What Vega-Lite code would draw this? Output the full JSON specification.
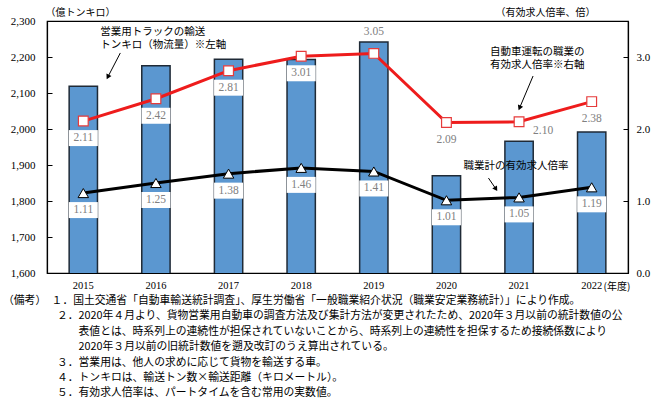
{
  "$schema": "https://vega.github.io/schema/vega-lite/v6.json",
  "width": 581,
  "height": 252,
  "autosize": {"type": "none"},
  "padding": {"left": 47, "top": 21, "right": 33, "bottom": 127},
  "background": "white",
  "config": {
    "view": {"stroke": "black", "strokeWidth": 1.2},
    "axis": {
      "domainColor": "black",
      "domainWidth": 1.2,
      "tickColor": "black",
      "labelColor": "black",
      "labelFont": "Liberation Serif",
      "labelFontSize": 11,
      "titleFont": "Noto Sans CJK JP",
      "titleFontSize": 10,
      "titleFontWeight": "normal",
      "titleColor": "black",
      "grid": false
    }
  },
  "title": {
    "text": [
      "（備考）　１．国土交通省「自動車輸送統計調査」、厚生労働省「一般職業紹介状況（職業安定業務統計）」により作成。",
      "\u200b　　　　　２．2020年４月より、貨物営業用自動車の調査方法及び集計方法が変更されたため、2020年３月以前の統計数値の公",
      "\u200b　　　　　　　表値とは、時系列上の連続性が担保されていないことから、時系列上の連続性を担保するため接続係数により",
      "\u200b　　　　　　　2020年３月以前の旧統計数値を遡及改訂のうえ算出されている。",
      "\u200b　　　　　３．営業用は、他人の求めに応じて貨物を輸送する車。",
      "\u200b　　　　　４．トンキロは、輸送トン数×輸送距離（キロメートル）。",
      "\u200b　　　　　５．有効求人倍率は、パートタイムを含む常用の実数値。"
    ],
    "orient": "bottom",
    "anchor": "start",
    "frame": "group",
    "dx": -44,
    "offset": 4,
    "font": "Noto Sans CJK JP",
    "fontSize": 10.8,
    "fontWeight": "normal",
    "lineHeight": 15.4,
    "color": "black"
  },
  "data": {
    "values": [
      {"year": "2015", "tonkm": 2119, "driver": 2.11, "all": 1.11},
      {"year": "2016", "tonkm": 2176, "driver": 2.42, "all": 1.25},
      {"year": "2017", "tonkm": 2194, "driver": 2.81, "all": 1.38},
      {"year": "2018", "tonkm": 2193, "driver": 3.01, "all": 1.46},
      {"year": "2019", "tonkm": 2242, "driver": 3.05, "all": 1.41},
      {"year": "2020", "tonkm": 1870, "driver": 2.09, "all": 1.01},
      {"year": "2021", "tonkm": 1966, "driver": 2.10, "all": 1.05},
      {"year": "2022", "tonkm": 1992, "driver": 2.38, "all": 1.19}
    ]
  },
  "layer": [
    {
      "mark": {"type": "bar", "color": "#5b97d0", "stroke": "#1f2a36", "strokeWidth": 1.5, "clip": true},
      "encoding": {
        "x": {
          "field": "year",
          "type": "ordinal",
          "scale": {"paddingInner": 0.61, "paddingOuter": 0.305},
          "axis": {
            "labelAngle": 0,
            "ticks": false,
            "labelPadding": 7,
            "labelFont": "Liberation Serif",
            "labelFontSize": 10.5,
            "title": "(年度)",
            "titleX": 556,
            "titleY": 13,
            "titleAlign": "left",
            "titleBaseline": "middle"
          }
        },
        "y": {
          "field": "tonkm",
          "type": "quantitative",
          "scale": {"domain": [1600, 2300], "zero": false, "nice": false},
          "axis": {
            "orient": "left",
            "values": [1600, 1700, 1800, 1900, 2000, 2100, 2200, 2300],
            "format": ",d",
            "labelFont": "Liberation Serif",
            "labelFontSize": 11,
            "tickSize": -5,
            "labelPadding": 17,
            "title": "（億トンキロ）",
            "titleAngle": 0,
            "titleX": -2,
            "titleY": -9,
            "titleAlign": "left",
            "titleBaseline": "middle"
          }
        }
      }
    },
    {
      "layer": [
        {
          "transform": [{"filter": {"field": "year", "oneOf": ["2015", "2016", "2017", "2018"]}}],
          "mark": {"type": "tick", "color": "white", "opacity": 1, "filled": true, "thickness": 16, "size": 29, "yOffset": 17},
          "encoding": {
            "x": {"field": "year", "type": "ordinal"},
            "y": {
              "field": "driver",
              "type": "quantitative",
              "scale": {"domain": [0, 3.5], "nice": false},
              "axis": {
                "orient": "right",
                "values": [0, 0.5, 1, 1.5, 2, 2.5, 3, 3.5],
                "format": ".1f",
                "labelFont": "Liberation Serif",
                "labelFontSize": 11,
                "tickSize": -5,
                "labelPadding": 13,
                "title": "（有効求人倍率、倍）",
                "titleAngle": 0,
                "titleX": -33,
                "titleY": -9,
                "titleAlign": "right",
                "titleBaseline": "middle"
              }
            }
          }
        },
        {
          "mark": {"type": "tick", "color": "white", "opacity": 1, "filled": true, "thickness": 16, "size": 29, "yOffset": 17},
          "encoding": {
            "x": {"field": "year", "type": "ordinal"},
            "y": {"field": "all", "type": "quantitative"}
          }
        },
        {
          "mark": {"type": "line", "color": "black", "strokeWidth": 3},
          "encoding": {
            "x": {"field": "year", "type": "ordinal"},
            "y": {"field": "all", "type": "quantitative"}
          }
        },
        {
          "mark": {"type": "point", "shape": "triangle-up", "filled": true, "fill": "white", "stroke": "black", "strokeWidth": 1, "size": 110, "opacity": 1},
          "encoding": {
            "x": {"field": "year", "type": "ordinal"},
            "y": {"field": "all", "type": "quantitative"}
          }
        },
        {
          "mark": {"type": "line", "color": "#ee1c1c", "strokeWidth": 3},
          "encoding": {
            "x": {"field": "year", "type": "ordinal"},
            "y": {"field": "driver", "type": "quantitative"}
          }
        },
        {
          "mark": {"type": "point", "shape": "square", "filled": true, "fill": "white", "stroke": "#e63b3b", "strokeWidth": 1.2, "size": 95, "opacity": 1},
          "encoding": {
            "x": {"field": "year", "type": "ordinal"},
            "y": {"field": "driver", "type": "quantitative"}
          }
        },
        {
          "transform": [{"filter": {"field": "year", "oneOf": ["2015", "2016", "2017", "2018", "2020", "2022"]}}],
          "mark": {"type": "text", "font": "Liberation Serif", "fontSize": 11.5, "color": "#808080", "dy": 17, "baseline": "middle"},
          "encoding": {
            "x": {"field": "year", "type": "ordinal"},
            "y": {"field": "driver", "type": "quantitative"},
            "text": {"field": "driver", "type": "quantitative", "format": ".2f"}
          }
        },
        {
          "transform": [{"filter": {"field": "year", "equal": "2019"}}],
          "mark": {"type": "text", "font": "Liberation Serif", "fontSize": 11.5, "color": "#808080", "dy": -21, "baseline": "middle"},
          "encoding": {
            "x": {"field": "year", "type": "ordinal"},
            "y": {"field": "driver", "type": "quantitative"},
            "text": {"field": "driver", "type": "quantitative", "format": ".2f"}
          }
        },
        {
          "transform": [{"filter": {"field": "year", "equal": "2021"}}],
          "mark": {"type": "text", "font": "Liberation Serif", "fontSize": 11.5, "color": "#808080", "dx": 24, "dy": 9, "baseline": "middle"},
          "encoding": {
            "x": {"field": "year", "type": "ordinal"},
            "y": {"field": "driver", "type": "quantitative"},
            "text": {"field": "driver", "type": "quantitative", "format": ".2f"}
          }
        },
        {
          "mark": {"type": "text", "font": "Liberation Serif", "fontSize": 11.5, "color": "#808080", "dy": 17, "baseline": "middle"},
          "encoding": {
            "x": {"field": "year", "type": "ordinal"},
            "y": {"field": "all", "type": "quantitative"},
            "text": {"field": "all", "type": "quantitative", "format": ".2f"}
          }
        },
        {
          "transform": [{"filter": {"field": "year", "equal": "2015"}}],
          "mark": {"type": "text", "font": "Noto Sans CJK JP", "fontSize": 10.5, "align": "left", "baseline": "top", "lineHeight": 13, "dx": 17, "color": "black"},
          "encoding": {
            "x": {"field": "year", "type": "ordinal"},
            "y": {"datum": 3.417, "type": "quantitative"},
            "text": {"value": ["営業用トラックの輸送", "トンキロ（物流量）※左軸"]}
          }
        },
        {
          "transform": [{"filter": {"field": "year", "equal": "2015"}}],
          "mark": {"type": "rule", "color": "black", "strokeWidth": 1, "xOffset": 37, "x2Offset": 24.5},
          "encoding": {
            "x": {"field": "year", "type": "ordinal"},
            "x2": {"field": "year"},
            "y": {"datum": 3.056, "type": "quantitative"},
            "y2": {"datum": 2.722}
          }
        },
        {
          "transform": [{"filter": {"field": "year", "equal": "2015"}}],
          "mark": {"type": "point", "shape": "triangle-up", "filled": true, "color": "black", "opacity": 1, "size": 32, "angle": 207, "xOffset": 24.5},
          "encoding": {
            "x": {"field": "year", "type": "ordinal"},
            "y": {"datum": 2.722, "type": "quantitative"}
          }
        },
        {
          "transform": [{"filter": {"field": "year", "equal": "2021"}}],
          "mark": {"type": "text", "font": "Noto Sans CJK JP", "fontSize": 10.5, "align": "left", "baseline": "top", "lineHeight": 13, "dx": -29, "color": "black"},
          "encoding": {
            "x": {"field": "year", "type": "ordinal"},
            "y": {"datum": 3.139, "type": "quantitative"},
            "text": {"value": ["自動車運転の職業の", "有効求人倍率※右軸"]}
          }
        },
        {
          "transform": [{"filter": {"field": "year", "equal": "2021"}}],
          "mark": {"type": "rule", "color": "black", "strokeWidth": 1, "xOffset": 14, "x2Offset": 0.5},
          "encoding": {
            "x": {"field": "year", "type": "ordinal"},
            "x2": {"field": "year"},
            "y": {"datum": 2.736, "type": "quantitative"},
            "y2": {"datum": 2.292}
          }
        },
        {
          "transform": [{"filter": {"field": "year", "equal": "2021"}}],
          "mark": {"type": "point", "shape": "triangle-up", "filled": true, "color": "black", "opacity": 1, "size": 32, "angle": 203, "xOffset": 0.5},
          "encoding": {
            "x": {"field": "year", "type": "ordinal"},
            "y": {"datum": 2.292, "type": "quantitative"}
          }
        },
        {
          "transform": [{"filter": {"field": "year", "equal": "2020"}}],
          "mark": {"type": "text", "font": "Noto Sans CJK JP", "fontSize": 10.5, "align": "left", "baseline": "middle", "dx": 17, "color": "black"},
          "encoding": {
            "x": {"field": "year", "type": "ordinal"},
            "y": {"datum": 1.486, "type": "quantitative"},
            "text": {"value": "職業計の有効求人倍率"}
          }
        },
        {
          "transform": [{"filter": {"field": "year", "equal": "2020"}}],
          "mark": {"type": "rule", "color": "black", "strokeWidth": 1, "xOffset": 42, "x2Offset": 49.5},
          "encoding": {
            "x": {"field": "year", "type": "ordinal"},
            "x2": {"field": "year"},
            "y": {"datum": 1.319, "type": "quantitative"},
            "y2": {"datum": 1.167}
          }
        },
        {
          "transform": [{"filter": {"field": "year", "equal": "2020"}}],
          "mark": {"type": "point", "shape": "triangle-up", "filled": true, "color": "black", "opacity": 1, "size": 32, "angle": 147, "xOffset": 49.5},
          "encoding": {
            "x": {"field": "year", "type": "ordinal"},
            "y": {"datum": 1.167, "type": "quantitative"}
          }
        }
      ]
    }
  ],
  "resolve": {"scale": {"y": "independent"}}
}
